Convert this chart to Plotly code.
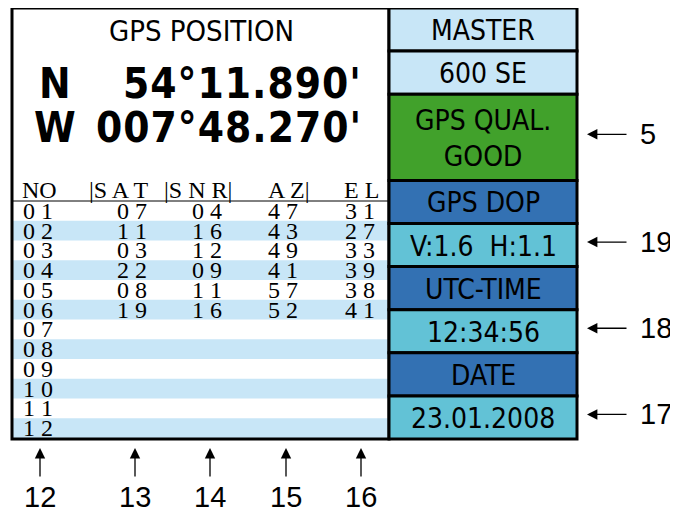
import plotly.graph_objects as go

# ---------------- data ----------------
title_text = "GPS POSITION"
lat_hemi, lat_val = "N", "54°11.890'"
lon_hemi, lon_val = "W", "007°48.270'"

table_headers = ["NO", "|S A T", "|S N R|", "A Z|", "E L"]
sat_no = ["01", "02", "03", "04", "05", "06", "07", "08", "09", "10", "11", "12"]
sat_id = ["07", "11", "03", "22", "08", "19"]
sat_snr = ["04", "16", "12", "09", "11", "16"]
sat_az = ["47", "43", "49", "41", "57", "52"]
sat_el = ["31", "27", "33", "39", "38", "41"]

panel_labels = ["MASTER", "600 SE", "GPS QUAL.<br>GOOD", "GPS DOP", "V:1.6  H:1.1",
                "UTC-TIME", "12:34:56", "DATE", "23.01.2008"]
panel_units = [1, 1, 2, 1, 1, 1, 1, 1, 1]
panel_colors = ["#c8e6f7", "#c8e6f7", "#41a12b", "#3371b3", "#62c2d6",
                "#3371b3", "#62c2d6", "#3371b3", "#62c2d6"]

side_callouts = ["5", "19", "18", "17"]
side_callout_panel = [2, 4, 6, 8]
bottom_callouts = ["12", "13", "14", "15", "16"]

# ---------------- layout constants ----------------
W, H = 678, 513
OFF = 8  # page body margin
L, R_left, TOP, BOT = 12, 389, 8, 439
R_right = 577
cell_h = (BOT - TOP) / sum(panel_units)
hdr_line = 201
row_h = (BOT - 1 - hdr_line) / len(sat_no)
stripe = "#c8e6f7"
narrow = "Liberation Sans Narrow, DejaVu Sans Condensed, Arial Narrow, sans-serif"
serif = "Liberation Serif, DejaVu Serif, serif"
sans = "Liberation Sans, Arial, DejaVu Sans, sans-serif"

col_x = [21, 132, 207, 283, 360]
hdr_x = [20, 87, 162, 266, 342]

shapes = []
ann = []

# stripes
for i in range(len(sat_no)):
    if i % 2 == 1:
        y0 = hdr_line + i * row_h
        shapes.append(dict(type="rect", x0=L, x1=R_left, y0=y0, y1=y0 + row_h,
                           fillcolor=stripe, line=dict(width=0), layer="below"))
# header line
shapes.append(dict(type="line", x0=L, x1=R_left, y0=hdr_line, y1=hdr_line,
                   line=dict(color="black", width=1)))
# left box
shapes.append(dict(type="rect", x0=L, x1=R_left, y0=TOP, y1=BOT,
                   line=dict(color="black", width=3)))
# right panels
y = TOP
for lab, u, c in zip(panel_labels, panel_units, panel_colors):
    y1 = y + u * cell_h
    shapes.append(dict(type="rect", x0=R_left, x1=R_right, y0=y, y1=y1,
                       fillcolor=c, line=dict(color="black", width=3)))
    ann.append(dict(x=(R_left + R_right) / 2, y=(y + y1) / 2 + 1, text=lab,
                    showarrow=False, xanchor="center", yanchor="middle",
                    font=dict(family=narrow, size=28, color="black")))
    y = y1

# title and position
ann.append(dict(x=201, y=31, text=title_text, showarrow=False, xanchor="center",
                yanchor="middle", font=dict(family=narrow, size=29, color="black")))
for hemi, val, yc in [(lat_hemi, lat_val, 83), (lon_hemi, lon_val, 127)]:
    ann.append(dict(x=55, y=yc, text="<b>" + hemi + "</b>", showarrow=False,
                    xanchor="center", yanchor="middle",
                    font=dict(family=narrow, size=42, color="black")))
    ann.append(dict(x=364, y=yc,
                    text='<b><span style="letter-spacing:1px">' + val + "</span></b>",
                    showarrow=False, xanchor="right", yanchor="middle",
                    font=dict(family=narrow, size=42, color="black")))

# table header
for t, x in zip(table_headers, hdr_x):
    ann.append(dict(x=x, y=190, text=t, showarrow=False, xanchor="left", yanchor="middle",
                    font=dict(family=serif, size=24, color="black")))

def spaced(s):
    return " ".join(list(s))

for i, no in enumerate(sat_no):
    yc = hdr_line + (i + 0.5) * row_h
    ann.append(dict(x=col_x[0], y=yc, text=spaced(no), showarrow=False, xanchor="left",
                    yanchor="middle", font=dict(family=serif, size=24, color="black")))
for col, vals in enumerate([sat_id, sat_snr, sat_az, sat_el]):
    for i, v in enumerate(vals):
        yc = hdr_line + (i + 0.5) * row_h
        ann.append(dict(x=col_x[col + 1], y=yc, text=spaced(v), showarrow=False,
                        xanchor="center", yanchor="middle",
                        font=dict(family=serif, size=24, color="black")))

# side callouts
cum = [TOP]
for u in panel_units:
    cum.append(cum[-1] + u * cell_h)
for lab, p in zip(side_callouts, side_callout_panel):
    yc = (cum[p] + cum[p + 1]) / 2 - 3
    ann.append(dict(x=587, y=yc, ax=628, ay=yc, axref="x", ayref="y", text="",
                    showarrow=True, arrowhead=2, arrowsize=1.6, arrowwidth=1.3,
                    arrowcolor="black"))
    ann.append(dict(x=638, y=yc, text=lab, showarrow=False, xanchor="left",
                    yanchor="middle", font=dict(family=sans, size=29, color="black")))

# bottom callouts
for lab, x in zip(bottom_callouts, [40, 135, 210, 286, 361]):
    ann.append(dict(x=x, y=448, ax=x, ay=478, axref="x", ayref="y", text="",
                    showarrow=True, arrowhead=2, arrowsize=1.6, arrowwidth=1.3,
                    arrowcolor="black"))
    ann.append(dict(x=x, y=497, text=lab, showarrow=False, xanchor="center",
                    yanchor="middle", font=dict(family=sans, size=29, color="black")))

fig = go.Figure()
fig.add_trace(go.Scatter(x=[], y=[]))
fig.update_layout(
    width=W - OFF, height=H - OFF, autosize=False,
    margin=dict(l=0, r=0, t=0, b=0),
    paper_bgcolor="white", plot_bgcolor="white",
    xaxis=dict(range=[OFF, W], visible=False, fixedrange=True),
    yaxis=dict(range=[H, OFF], visible=False, fixedrange=True),
    shapes=shapes, annotations=ann, showlegend=False,
)
fig.write_html("out.html")
